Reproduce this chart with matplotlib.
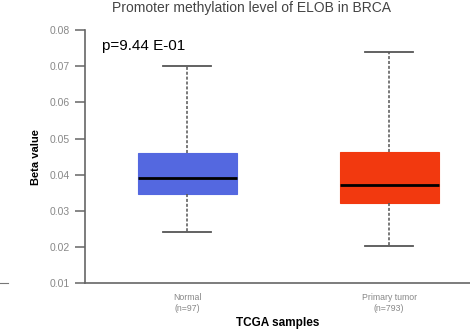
import matplotlib.pyplot as plt
from matplotlib.lines import Line2D

# Box statistics
groups = ["Normal\n(n=97)", "Primary tumor\n(n=793)"]
whisker_low = [0.0241, 0.0202]
box_low = [0.0348, 0.0321]
medians = [0.0391, 0.0371]
box_high = [0.0461, 0.0462]
whisker_high = [0.0700, 0.0739]
colors = ["#5468e0", "#f2390f"]
yticks = [0.01, 0.02, 0.03, 0.04, 0.05, 0.06, 0.07, 0.08]

plt.rcParams["font.family"] = ["Liberation Sans", "DejaVu Sans"]

fig = plt.figure(figsize=(4.7, 3.33), dpi=100)
ax = fig.add_axes([0.181, 0.149, 0.819, 0.761])

stats = []
for i in range(len(groups)):
    stats.append({
        "whislo": whisker_low[i], "q1": box_low[i], "med": medians[i],
        "q3": box_high[i], "whishi": whisker_high[i], "label": groups[i],
    })

bp = ax.bxp(stats, positions=[0, 1], widths=0.49, patch_artist=True,
            showfliers=False, capwidths=0.24,
            boxprops=dict(linewidth=0.8),
            medianprops=dict(color="black", linewidth=2),
            whiskerprops=dict(color="#555555", linestyle=(0, (2, 1.2)), linewidth=1.1),
            capprops=dict(color="#555555", linewidth=1.3))
for patch, c in zip(bp["boxes"], colors):
    patch.set_facecolor(c)
    patch.set_edgecolor(c)

ax.set_xlim(-0.505, 1.40)
ax.set_ylim(0.01, 0.08)
ax.set_yticks(yticks)
ax.set_yticklabels(["%.2f" % v for v in yticks])

for s in ["top", "right"]:
    ax.spines[s].set_visible(False)
for s in ["left", "bottom"]:
    ax.spines[s].set_color("#666666")
    ax.spines[s].set_linewidth(1.2)

ax.tick_params(axis="y", length=7, width=1.1, color="#666666",
               labelcolor="#888888", labelsize=7.5, pad=4)
ax.tick_params(axis="x", length=0, labelcolor="#888888", labelsize=6.3, pad=7)

ax.set_ylabel("Beta value", fontsize=8, fontweight="bold", labelpad=6)
ax.set_xlabel("TCGA samples", fontsize=8.5, fontweight="bold", labelpad=3)

ax.text(0.045, 0.935, "p=9.44 E-01", transform=ax.transAxes, fontsize=11,
        color="black", va="center", ha="left")

fig.text(0.535, 0.998, "Promoter methylation level of ELOB in BRCA",
         ha="center", va="top", fontsize=10, color="#444444")

fig.add_artist(Line2D([0.0, 0.018], [0.149, 0.149], color="#777777",
                      linewidth=0.8, transform=fig.transFigure))

fig.savefig("out.png", dpi=100)
